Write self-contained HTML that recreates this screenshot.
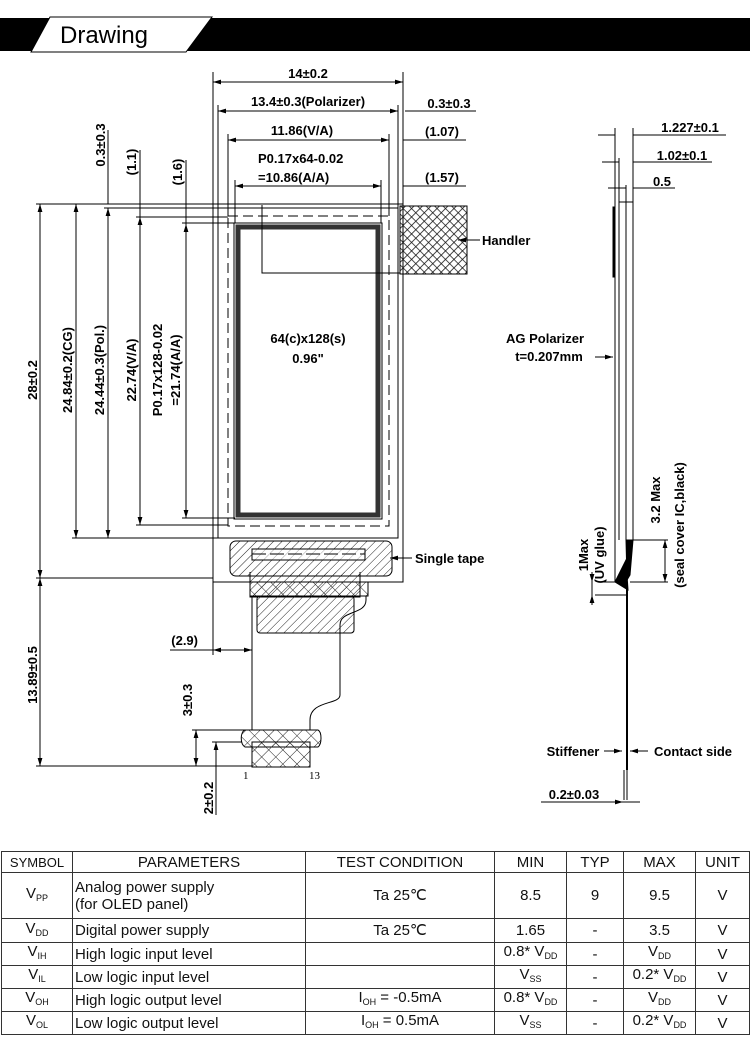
<!DOCTYPE html>
<html><head><meta charset="utf-8">
<style>
body{margin:0;width:750px;height:1037px;background:#fff;overflow:hidden;font-family:"Liberation Sans",sans-serif}
svg{position:absolute;left:0;top:0}
table{position:absolute;left:1px;top:851px;border-collapse:collapse;font-family:"Liberation Sans",sans-serif;font-size:15px;color:#111}
td{border:1px solid #333;padding:0;text-align:center;line-height:17px}
td.p{text-align:left;padding-left:2px}
sub{font-size:9px;vertical-align:-3px}
</style></head><body>
<svg width="750" height="1037" viewBox="0 0 750 1037" font-family="Liberation Sans, sans-serif">
<defs>
<pattern id="hatch" width="6" height="6" patternUnits="userSpaceOnUse" patternTransform="rotate(45)"><line x1="0" y1="0" x2="0" y2="6" stroke="#222" stroke-width="1"/></pattern>
<pattern id="cross" width="6" height="6" patternUnits="userSpaceOnUse" patternTransform="rotate(45)"><path d="M0 0V6M0 0H6" stroke="#111" stroke-width="1.6"/></pattern>
<pattern id="xc" width="10" height="10" patternUnits="userSpaceOnUse" patternTransform="rotate(45)"><path d="M0 0V10M0 0H10" stroke="#222" stroke-width="1"/></pattern>
<marker id="a" viewBox="0 0 10 6" refX="10" refY="3" markerWidth="8" markerHeight="5" orient="auto-start-reverse"><path d="M0 0L10 3L0 6z" fill="#000"/></marker>
</defs>
<!-- header -->
<rect x="0" y="18" width="750" height="33" fill="#000"/>
<polygon points="50,17 212,17 186,52 31,52" fill="#fff" stroke="#000"/>
<text x="60" y="43" font-size="24" fill="#000">Drawing</text>

<g stroke="#000" stroke-width="1" fill="none">
<!-- panel -->
<rect x="213" y="204" width="190" height="378"/>
<rect x="218" y="208" width="180" height="330"/>
<rect x="228" y="216" width="161" height="310" stroke-dasharray="10,5"/>
<rect x="238" y="227" width="140" height="288" stroke="#333" stroke-width="5"/>
<rect x="234" y="223" width="148" height="296" stroke-width="1"/>
<path d="M262 205V273H400"/>
<rect x="400" y="206" width="67" height="68" fill="url(#cross)"/>
<!-- single tape / fpc -->
<path d="M250 572V597H360V572" fill="url(#hatch)"/>
<rect x="230" y="541" width="162" height="35" rx="6" fill="url(#hatch)"/>
<rect x="252" y="549" width="113" height="11" fill="#fff" fill-opacity="0.6"/>
<path d="M252 554H365" stroke-dasharray="14,4"/>
<rect x="250" y="582" width="118" height="14" fill="url(#xc)"/>
<rect x="257" y="596" width="97" height="37" rx="3" fill="url(#hatch)"/>
<path d="M252 596V730M366 596V600C366 615 340 610 340 625V695C340 705 310 700 310 720V730"/>
<path d="M245 730H318C322 732 322 744 318 747H245C240 744 240 732 245 730Z" fill="url(#xc)"/>
<rect x="252" y="742" width="58" height="25" fill="url(#xc)"/>
<!-- top dims -->
<path d="M213 204V72M403 204V72M218 208V105M398 208V105M228 216V134M389 216V134M235 223V180M381 223V180"/>
<line x1="213" y1="82" x2="403" y2="82" marker-start="url(#a)" marker-end="url(#a)"/>
<line x1="218" y1="111" x2="398" y2="111" marker-start="url(#a)" marker-end="url(#a)"/>
<line x1="228" y1="140" x2="389" y2="140" marker-start="url(#a)" marker-end="url(#a)"/>
<line x1="235" y1="186" x2="381" y2="186" marker-start="url(#a)" marker-end="url(#a)"/>
<path d="M405 111H476M403 140H466M403 186H466"/>
<!-- left dims -->
<path d="M36 204H213M72 204H213M104 208H218M136 217H228M182 223H235M36 578H213M72 538H218M104 538H218M136 525H228M182 518H235"/>
<path d="M108 130V204M140 150V217M186 160V224"/>
<line x1="40" y1="204" x2="40" y2="578" marker-start="url(#a)" marker-end="url(#a)"/>
<line x1="76" y1="204" x2="76" y2="538" marker-start="url(#a)" marker-end="url(#a)"/>
<line x1="108" y1="208" x2="108" y2="538" marker-start="url(#a)" marker-end="url(#a)"/>
<line x1="140" y1="217" x2="140" y2="525" marker-start="url(#a)" marker-end="url(#a)"/>
<line x1="186" y1="224" x2="186" y2="518" marker-start="url(#a)" marker-end="url(#a)"/>
<line x1="40" y1="578" x2="40" y2="766" marker-start="url(#a)" marker-end="url(#a)"/>
<path d="M36 766H252M192 730H252M212 742H242"/>
<line x1="196" y1="730" x2="196" y2="766" marker-start="url(#a)" marker-end="url(#a)"/>
<line x1="216" y1="742" x2="216" y2="815" marker-start="url(#a)"/>
<path d="M213 582V655"/>
<line x1="213" y1="650" x2="252" y2="650" marker-start="url(#a)" marker-end="url(#a)"/>
<path d="M170 650H213"/>
<!-- leaders -->
<line x1="480" y1="240" x2="458" y2="240" marker-end="url(#a)"/>
<line x1="412" y1="558" x2="390" y2="558" marker-end="url(#a)"/>
<!-- side view -->
<path d="M615 128V582M633 128V540M619 158V540M626 185V540M598 135H615M633 135H726M602 162H619M633 162H712M608 188H626M633 188H675"/>
<path d="M619 202H633"/>
<rect x="613" y="207" width="2" height="70" fill="#000"/>
<path d="M615 582L628 590L626 560Z" fill="#000"/>
<path d="M626 540H633L630 575L627 580Z" fill="#000"/>
<line x1="627" y1="585" x2="627" y2="770" stroke-width="2"/>
<path d="M627 770V800M624 770V800"/>
<path d="M633 540H668M630 582H668M598 582H615M595 595H627"/>
<line x1="665" y1="540" x2="665" y2="582" marker-start="url(#a)" marker-end="url(#a)"/>
<line x1="592" y1="572" x2="592" y2="582" marker-end="url(#a)"/>
<line x1="592" y1="605" x2="592" y2="595" marker-end="url(#a)"/>
<line x1="592" y1="582" x2="592" y2="595"/>
<line x1="595" y1="357" x2="613" y2="357" marker-end="url(#a)"/>
<line x1="604" y1="751" x2="622" y2="751" marker-end="url(#a)"/>
<line x1="648" y1="751" x2="630" y2="751" marker-end="url(#a)"/>
<path d="M541 802H640"/>
<line x1="612" y1="802" x2="623" y2="802" marker-end="url(#a)"/>
</g>
<g font-size="13" font-weight="bold" fill="#000">
<text x="308" y="78" text-anchor="middle">14±0.2</text>
<text x="308" y="106" text-anchor="middle">13.4±0.3(Polarizer)</text>
<text x="449" y="108" text-anchor="middle">0.3±0.3</text>
<text x="302" y="135" text-anchor="middle">11.86(V/A)</text>
<text x="442" y="136" text-anchor="middle">(1.07)</text>
<text x="258" y="163">P0.17x64-0.02</text>
<text x="258" y="182">=10.86(A/A)</text>
<text x="442" y="182" text-anchor="middle">(1.57)</text>
<text x="308" y="343" text-anchor="middle">64(c)x128(s)</text>
<text x="308" y="363" text-anchor="middle">0.96"</text>
<text x="482" y="245">Handler</text>
<text x="415" y="563">Single tape</text>
<text x="198" y="645" text-anchor="end">(2.9)</text>
<text transform="translate(105,145) rotate(-90)" text-anchor="middle">0.3±0.3</text>
<text transform="translate(136,162) rotate(-90)" text-anchor="middle">(1.1)</text>
<text transform="translate(182,172) rotate(-90)" text-anchor="middle">(1.6)</text>
<text transform="translate(37,380) rotate(-90)" text-anchor="middle">28±0.2</text>
<text transform="translate(72,370) rotate(-90)" text-anchor="middle">24.84±0.2(CG)</text>
<text transform="translate(104,370) rotate(-90)" text-anchor="middle">24.44±0.3(Pol.)</text>
<text transform="translate(136,370) rotate(-90)" text-anchor="middle">22.74(V/A)</text>
<text transform="translate(162,370) rotate(-90)" text-anchor="middle">P0.17x128-0.02</text>
<text transform="translate(180,370) rotate(-90)" text-anchor="middle">=21.74(A/A)</text>
<text transform="translate(37,675) rotate(-90)" text-anchor="middle">13.89±0.5</text>
<text transform="translate(192,700) rotate(-90)" text-anchor="middle">3±0.3</text>
<text transform="translate(213,798) rotate(-90)" text-anchor="middle">2±0.2</text>
<text x="690" y="132" text-anchor="middle">1.227±0.1</text>
<text x="682" y="160" text-anchor="middle">1.02±0.1</text>
<text x="662" y="186" text-anchor="middle">0.5</text>
<text x="545" y="343" text-anchor="middle">AG Polarizer</text>
<text x="549" y="361" text-anchor="middle">t=0.207mm</text>
<text transform="translate(660,500) rotate(-90)" text-anchor="middle">3.2 Max</text>
<text transform="translate(684,525) rotate(-90)" text-anchor="middle">(seal cover IC,black)</text>
<text transform="translate(588,555) rotate(-90)" text-anchor="middle">1Max</text>
<text transform="translate(604,555) rotate(-90)" text-anchor="middle">(UV glue)</text>
<text x="573" y="756" text-anchor="middle">Stiffener</text>
<text x="693" y="756" text-anchor="middle">Contact side</text>
<text x="574" y="799" text-anchor="middle">0.2±0.03</text>
</g>
<g font-family="Liberation Serif, serif" font-size="11" fill="#000">
<text x="243" y="779">1</text><text x="309" y="779">13</text>
</g>
</svg>
<table>
<tr style="height:21px"><td style="width:70px;font-size:13px">SYMBOL</td><td style="width:232px">PARAMETERS</td><td style="width:188px">TEST CONDITION</td><td style="width:71px">MIN</td><td style="width:56px">TYP</td><td style="width:71px">MAX</td><td style="width:53px">UNIT</td></tr>
<tr style="height:46px"><td>V<sub>PP</sub></td><td class="p">Analog power supply<br>(for OLED panel)</td><td>Ta 25℃</td><td>8.5</td><td>9</td><td>9.5</td><td>V</td></tr>
<tr style="height:24px"><td>V<sub>DD</sub></td><td class="p">Digital power supply</td><td>Ta 25℃</td><td>1.65</td><td>-</td><td>3.5</td><td>V</td></tr>
<tr style="height:23px"><td>V<sub>IH</sub></td><td class="p">High logic input level</td><td></td><td>0.8* V<sub>DD</sub></td><td>-</td><td>V<sub>DD</sub></td><td>V</td></tr>
<tr style="height:23px"><td>V<sub>IL</sub></td><td class="p">Low logic input level</td><td></td><td>V<sub>SS</sub></td><td>-</td><td>0.2* V<sub>DD</sub></td><td>V</td></tr>
<tr style="height:23px"><td>V<sub>OH</sub></td><td class="p">High logic output level</td><td>I<sub>OH</sub> = -0.5mA</td><td>0.8* V<sub>DD</sub></td><td>-</td><td>V<sub>DD</sub></td><td>V</td></tr>
<tr style="height:23px"><td>V<sub>OL</sub></td><td class="p">Low logic output level</td><td>I<sub>OH</sub> = 0.5mA</td><td>V<sub>SS</sub></td><td>-</td><td>0.2* V<sub>DD</sub></td><td>V</td></tr>
</table>
</body></html>
